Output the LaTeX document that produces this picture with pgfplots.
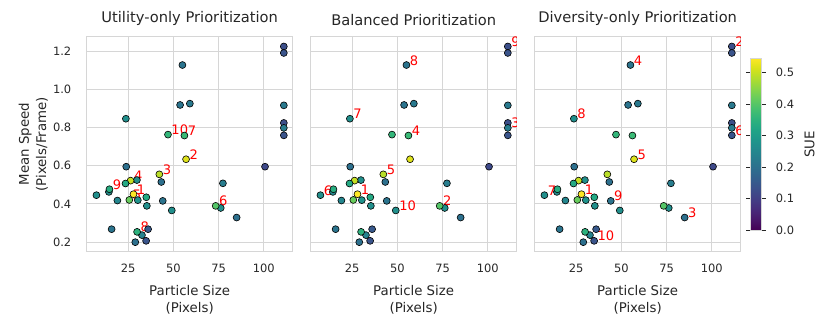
\documentclass[border=0pt]{standalone}
\usepackage{pgfplots}
\pgfplotsset{compat=1.18}
\usepackage{pgfplotstable}
\usepackage{fontspec}
\setmainfont{DejaVu Sans}

\definecolor{gridgray}{RGB}{214,214,214}
\definecolor{textgray}{RGB}{38,38,38}

% particle size, mean speed, SUE
\pgfplotstableread{
x y c
111.1 1.224 0.13
111.1 1.190 0.14
55.0 1.127 0.21
53.7 0.918 0.21
59.1 0.925 0.22
111.1 0.916 0.22
23.7 0.846 0.27
111.1 0.824 0.13
111.1 0.798 0.23
111.1 0.759 0.14
47.0 0.763 0.36
56.1 0.758 0.37
57.0 0.634 0.52
100.7 0.595 0.12
23.9 0.595 0.20
42.2 0.555 0.49
43.3 0.515 0.20
29.8 0.525 0.27
26.3 0.522 0.50
23.5 0.507 0.33
77.4 0.508 0.23
14.3 0.463 0.26
14.6 0.477 0.34
7.4 0.446 0.27
35.0 0.435 0.33
19.0 0.418 0.25
30.3 0.420 0.28
25.6 0.421 0.42
27.9 0.451 0.55
35.3 0.390 0.27
44.1 0.416 0.21
49.1 0.366 0.27
76.2 0.379 0.27
73.4 0.390 0.40
85.0 0.329 0.20
15.8 0.268 0.21
36.0 0.268 0.15
32.6 0.237 0.24
29.9 0.254 0.35
28.9 0.200 0.20
34.9 0.207 0.14
}\pts

\pgfplotsset{
  panel/.style={
    scale only axis, width=154.5pt, height=161.25pt,
    xmin=2, xmax=116, ymin=0.15, ymax=1.275,
    xtick={25,50,75,100}, ytick={0.2,0.4,0.6,0.8,1.0,1.2},
    grid=major, major grid style={color=gridgray, line width=0.8pt},
    axis line style={color=gridgray, line width=0.8pt},
    tick style={draw=none},
    /pgf/number format/assume math mode=true,
    tick label style={font=\fontsize{8.6}{10}\selectfont, text=textgray},
    xticklabel style={yshift=-6pt},
    yticklabel style={xshift=-8pt, /pgf/number format/fixed,
      /pgf/number format/fixed zerofill, /pgf/number format/precision=1},
    xlabel={Particle Size\\(Pixels)},
    xlabel style={yshift=-2pt},
    ylabel style={yshift=-3pt},
    label style={font=\fontsize{10}{13}\selectfont, align=center, text=textgray},
    title style={font=\fontsize{11}{13}\selectfont, text=textgray, yshift=-1.5pt},
    colormap/viridis, point meta min=0, point meta max=0.546,
  },
}
\tikzset{lbl/.style={red, anchor=base west, inner sep=0pt, xshift=2.4pt,
    font=\fontsize{9.8}{11}\selectfont}}

\newcommand{\scatterpts}{%
  \addplot[scatter, only marks, mark=*, mark size=2.6pt, point meta=explicit,
    scatter/use mapped color={draw=black, fill=mapped color},
    mark options={line width=0.45pt}]
    table[x=x, y=y, meta=c] {\pts};}

\begin{document}
\begin{tikzpicture}
\begin{axis}[panel, at={(0,0)}, anchor=south west,
  title={Utility-only Prioritization},
  ylabel={Mean Speed\\(Pixels/Frame)}]
\scatterpts
\node[lbl] at (axis cs:27.9,0.451) {1};
\node[lbl] at (axis cs:57.0,0.634) {2};
\node[lbl] at (axis cs:42.2,0.555) {3};
\node[lbl] at (axis cs:26.3,0.522) {4};
\node[lbl] at (axis cs:25.6,0.421) {5};
\node[lbl] at (axis cs:73.4,0.390) {6};
\node[lbl] at (axis cs:56.1,0.758) {7};
\node[lbl] at (axis cs:29.9,0.254) {8};
\node[lbl] at (axis cs:14.6,0.477) {9};
\node[lbl] at (axis cs:47.0,0.763) {10};
\end{axis}
\begin{axis}[panel, at={(168pt,0)}, anchor=south west,
  title={Balanced Prioritization}, yticklabels={}]
\scatterpts
\node[lbl] at (axis cs:27.9,0.451) {1};
\node[lbl] at (axis cs:73.4,0.390) {2};
\node[lbl] at (axis cs:111.1,0.798) {3};
\node[lbl] at (axis cs:56.1,0.758) {4};
\node[lbl] at (axis cs:42.2,0.555) {5};
\node[lbl] at (axis cs:7.4,0.446) {6};
\node[lbl] at (axis cs:23.7,0.846) {7};
\node[lbl] at (axis cs:55.0,1.127) {8};
\node[lbl] at (axis cs:111.1,1.224) {9};
\node[lbl] at (axis cs:49.1,0.366) {10};
\end{axis}
\begin{axis}[panel, at={(336pt,0)}, anchor=south west,
  title={Diversity-only Prioritization}, yticklabels={},
  colorbar,
  colorbar style={at={(parent axis.east)}, anchor=west, xshift=-1.2pt,
    width=8.5pt, height=129pt,
    ytick={0,0.1,0.2,0.3,0.4,0.5},
    axis line style={color=gridgray, line width=0.8pt},
    ytick style={draw=textgray, line width=0.6pt},
    tick align=outside, major tick length=3pt,
    yticklabel pos=right,
    /pgf/number format/assume math mode=true,
    yticklabel style={font=\fontsize{8.6}{10}\selectfont, text=textgray,
      xshift=4pt, /pgf/number format/fixed, /pgf/number format/fixed zerofill,
      /pgf/number format/precision=1},
    ylabel={SUE},
    ylabel style={font=\fontsize{10}{12}\selectfont, text=textgray, yshift=-1pt}}]
\scatterpts
\node[lbl] at (axis cs:27.9,0.451) {1};
\node[lbl] at (axis cs:111.1,1.224) {2};
\node[lbl] at (axis cs:85.0,0.329) {3};
\node[lbl] at (axis cs:55.0,1.127) {4};
\node[lbl] at (axis cs:57.0,0.634) {5};
\node[lbl] at (axis cs:111.1,0.759) {6};
\node[lbl] at (axis cs:7.4,0.446) {7};
\node[lbl] at (axis cs:23.7,0.846) {8};
\node[lbl] at (axis cs:44.1,0.416) {9};
\node[lbl] at (axis cs:34.9,0.207) {10};
\end{axis}
\pgfresetboundingbox
\path[use as bounding box] (-65.0pt,-60.2pt) rectangle (557.5pt,188.8pt);
\end{tikzpicture}
\end{document}
